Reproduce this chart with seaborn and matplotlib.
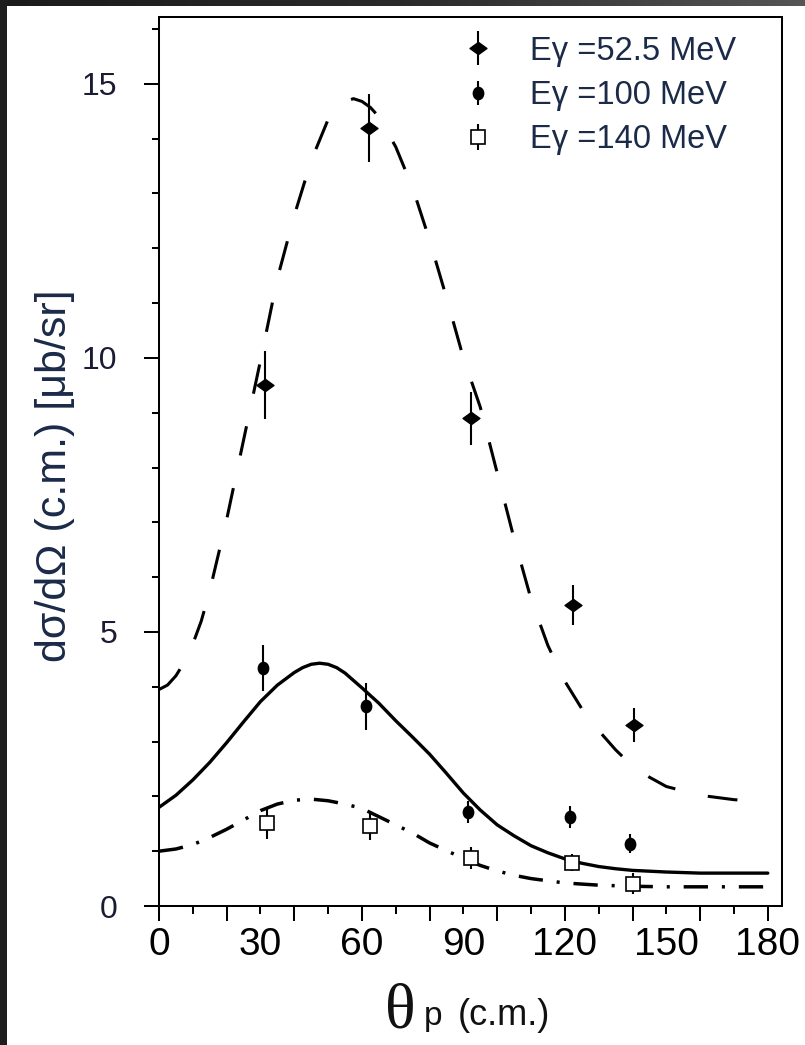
import numpy as np
import matplotlib
matplotlib.use("Agg")
import matplotlib.pyplot as plt
import seaborn as sns
from matplotlib.path import Path
from matplotlib.transforms import Affine2D
from matplotlib.legend_handler import HandlerErrorbar
from matplotlib.ticker import MultipleLocator, FuncFormatter
from matplotlib.patches import Rectangle
from matplotlib.colors import LinearSegmentedColormap

# ---- calculated cross sections (theta_p in degrees, c.m.) ----
theta_52 = [0, 2.5, 5, 7.5, 10, 12.5, 15, 17.5, 20, 25, 30, 35, 40, 45, 50, 52.5, 55,
            57.5, 60, 62.5, 65, 70, 75, 80, 85, 90, 95, 100, 105, 110, 115, 120, 125,
            130, 135, 140, 145, 150, 160, 170, 175]
calc_52 = [3.95, 4.03, 4.2, 4.45, 4.78, 5.2, 5.75, 6.4, 7.05, 8.5, 9.95, 11.45, 12.6,
           13.6, 14.35, 14.55, 14.68, 14.73, 14.68, 14.57, 14.4, 13.85, 13.1, 12.15,
           11.1, 10.0, 9.1, 7.9, 6.7, 5.6, 4.75, 4.1, 3.6, 3.2, 2.85, 2.55, 2.35, 2.18,
           2.02, 1.94, 1.92]

theta_100 = [0, 5, 10, 15, 20, 25, 30, 35, 40, 42.5, 45, 47.5, 50, 52.5, 55, 60, 65,
             70, 75, 80, 85, 90, 95, 100, 105, 110, 115, 120, 125, 130, 135, 140, 150,
             160, 170, 180]
calc_100 = [1.8, 2.02, 2.3, 2.62, 2.98, 3.36, 3.73, 4.03, 4.26, 4.35, 4.41, 4.43, 4.41,
            4.35, 4.25, 3.98, 3.7, 3.38, 3.08, 2.77, 2.42, 2.06, 1.75, 1.48, 1.28, 1.1,
            0.97, 0.86, 0.78, 0.72, 0.68, 0.65, 0.62, 0.6, 0.6, 0.6]

theta_140 = [0, 5, 10, 15, 20, 25, 30, 35, 40, 45, 50, 55, 60, 65, 70, 75, 80, 85, 90,
             95, 100, 105, 110, 115, 120, 130, 140, 150, 160, 170, 180]
calc_140 = [1.0, 1.04, 1.12, 1.25, 1.4, 1.57, 1.74, 1.86, 1.93, 1.95, 1.92, 1.86, 1.78,
            1.63, 1.48, 1.33, 1.15, 1.01, 0.87, 0.74, 0.64, 0.56, 0.5, 0.46, 0.42, 0.38,
            0.36, 0.35, 0.35, 0.35, 0.35]

# ---- measured points ----
meas_theta_52 = [31.4, 62.2, 92.2, 122.4, 140.3]
meas_52 = [9.5, 14.2, 8.9, 5.49, 3.3]
err_52 = [0.62, 0.62, 0.48, 0.36, 0.31]

meas_theta_100 = [30.8, 61.3, 91.5, 121.6, 139.4]
meas_100 = [4.34, 3.64, 1.72, 1.63, 1.14]
err_100 = [0.42, 0.42, 0.2, 0.2, 0.18]

meas_theta_140 = [31.8, 62.3, 92.3, 122.1, 140.2]
meas_140 = [1.51, 1.46, 0.88, 0.79, 0.41]
err_140 = [0.28, 0.25, 0.2, 0.16, 0.2]

labels = ["E\u03b3 =52.5 MeV", "E\u03b3 =100 MeV", "E\u03b3 =140 MeV"]
x_tick_step_label = 30

sns.set_theme(style="ticks", rc={
    "axes.edgecolor": "black",
    "axes.linewidth": 1.45,
    "xtick.color": "black",
    "ytick.color": "black",
    "lines.scale_dashes": False,
})
plt.rcParams["font.family"] = ["Liberation Sans", "DejaVu Sans"]

W, H = 805, 1045
fig = plt.figure(figsize=(W / 100, H / 100), dpi=100, facecolor="white")

# dark window frame along the top and left edges
band = fig.add_axes([0, 1 - 6 / H, 1, 6 / H])
band.imshow(np.linspace(0, 1, 256)[None, :], aspect="auto",
            cmap=LinearSegmentedColormap.from_list("frame", ["#1b1b1b", "#2a2a2a", "#555555"]))
band.axis("off")
fig.add_artist(Rectangle((0, 0), 7 / W, 1, transform=fig.transFigure,
                         facecolor="#1e1e1e", edgecolor="none"))

ax = fig.add_axes([159 / W, 1 - 906 / H, (782 - 159) / W, (906 - 17) / H])
ax.set_facecolor("white")

# calculated curves
sns.lineplot(x=theta_52, y=calc_52, ax=ax, color="black", linewidth=2.2)
ax.lines[-1].set_dashes([21.5, 24.0])
sns.lineplot(x=theta_100, y=calc_100, ax=ax, color="black", linewidth=2.4)
sns.lineplot(x=theta_140, y=calc_140, ax=ax, color="black", linewidth=2.5)
ax.lines[-1].set_dashes([17.5, 10.0, 2.2, 10.0])
for ln in ax.lines:
    ln.set_solid_joinstyle("round")
    ln.set_dash_joinstyle("round")

# marker shapes
wide_diamond = Path([(-1, 0), (0, 0.72), (1, 0), (0, -0.72), (-1, 0)],
                    [Path.MOVETO, Path.LINETO, Path.LINETO, Path.LINETO, Path.CLOSEPOLY])
tall_dot = Path.unit_circle().transformed(Affine2D().scale(0.85, 1.0))

c52 = ax.errorbar(meas_theta_52, meas_52, yerr=err_52, marker=wide_diamond, ms=12.2,
                  ls="none", color="black", mfc="black", mec="black",
                  elinewidth=1.5, capsize=0, zorder=5)
c100 = ax.errorbar(meas_theta_100, meas_100, yerr=err_100, marker=tall_dot, ms=8.8,
                   ls="none", color="black", mfc="black", mec="black",
                   elinewidth=1.5, capsize=0, zorder=5)
c140 = ax.errorbar(meas_theta_140, meas_140, yerr=err_140, marker="s", ms=10,
                   ls="none", color="black", mfc="white", mec="black", mew=1.2,
                   elinewidth=1.5, capsize=0, zorder=5)

ax.set_xlim(0, 184.2)
ax.set_ylim(0, 16.22)
ax.set_xlabel("")
for side in ["top", "right", "left", "bottom"]:
    ax.spines[side].set_visible(True)
    ax.spines[side].set_linewidth(1.45)
    ax.spines[side].set_color("black")

# ticks: short marks every 10 deg, long ones every 20 deg, numbers every 30 deg
ax.xaxis.set_major_locator(MultipleLocator(10))
ax.xaxis.set_minor_locator(MultipleLocator(20))
ax.xaxis.set_major_formatter(FuncFormatter(
    lambda v, p: f"{int(round(v))}" if int(round(v)) % x_tick_step_label == 0 else ""))
ax.xaxis.remove_overlapping_locs = False
ax.yaxis.set_major_locator(MultipleLocator(5))
ax.yaxis.set_minor_locator(MultipleLocator(1))

ax.tick_params(axis="both", which="both", direction="out", width=1.45, color="black",
               top=False, right=False)
ax.tick_params(axis="y", which="major", length=10.8, pad=19, labelsize=23,
               labelcolor="#1b1b33")
ax.tick_params(axis="y", which="minor", length=5.4)
ax.tick_params(axis="x", which="major", length=5.4, pad=10, labelsize=28,
               labelcolor="black")
ax.tick_params(axis="x", which="minor", length=10.8)

# axis titles
ax.set_ylabel("d\u03c3/d\u03a9 (c.m.) [\u03bcb/sr]", fontsize=31, color="#1a2a48")
ax.yaxis.set_label_coords(-0.135, 0.484)

fig.text(385 / W, 1 - 1027 / H, "\u03b8", fontsize=46, family="Liberation Serif",
         color="#111111", ha="left", va="baseline")
fig.text(424 / W, 1 - 1025 / H, "p", fontsize=24, color="#111111",
         ha="left", va="baseline")
fig.text(458 / W, 1 - 1025 / H, "(c.m.)", fontsize=26, color="#111111",
         ha="left", va="baseline")

# legend
leg = ax.legend([c52, c100, c140], labels, loc="upper left",
                bbox_to_anchor=(0.486, 0.979), frameon=False, fontsize=23.5,
                handlelength=1.0, handletextpad=1.1, labelspacing=0.41,
                borderpad=0, borderaxespad=0, labelcolor="#1a2a48",
                handler_map={c52: HandlerErrorbar(xerr_size=0.52),
                             c100: HandlerErrorbar(xerr_size=0.37),
                             c140: HandlerErrorbar(xerr_size=0.40)})

fig.savefig("out.png", dpi=100, facecolor="white")
